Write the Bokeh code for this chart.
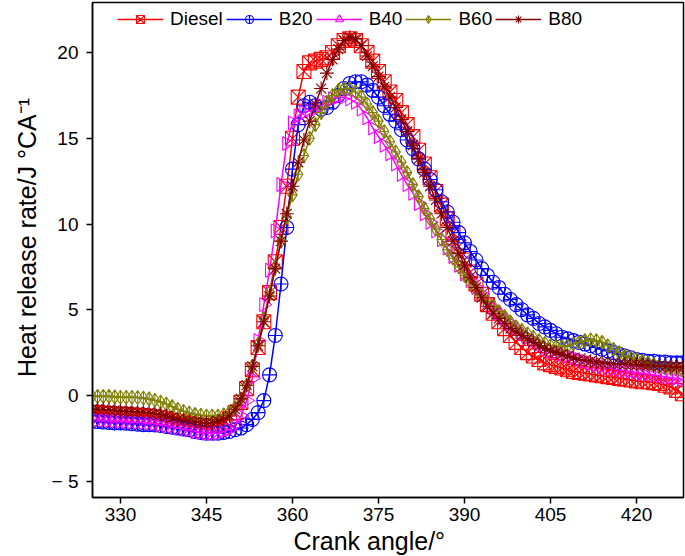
import math
from bokeh.plotting import figure
from bokeh.models import FixedTicker, Range1d, CustomJSTickFormatter, ColumnDataSource
from bokeh.embed import file_html
from bokeh.resources import INLINE

crank = list(range(325, 429))

diesel = [-1.0, -1.0, -1.05, -1.05, -1.1, -1.1, -1.1, -1.15, -1.15, -1.2,
          -1.2, -1.25, -1.3, -1.35, -1.45, -1.5, -1.55, -1.65, -1.7, -1.75,
          -1.8, -1.8, -1.7, -1.55, -1.35, -1.0, -0.4, 0.4, 1.5, 2.8,
          4.3, 6.0, 7.8, 9.8, 12.2, 15.0, 17.4, 18.9, 19.4, 19.5,
          19.6, 19.7, 20.0, 20.4, 20.7, 20.8, 20.7, 20.4, 20.0, 19.5,
          18.9, 18.3, 17.7, 17.2, 16.5, 15.8, 15.1, 14.3, 13.5, 12.7,
          11.9, 11.1, 10.3, 9.5, 8.7, 7.9, 7.2, 6.5, 5.9, 5.3,
          4.8, 4.3, 3.9, 3.5, 3.1, 2.8, 2.5, 2.3, 2.1, 1.9,
          1.8, 1.7, 1.6, 1.5, 1.4, 1.35, 1.3, 1.25, 1.2, 1.15,
          1.1, 1.05, 1.0, 0.95, 0.9, 0.85, 0.8, 0.8, 0.75, 0.7,
          0.6, 0.5, 0.3, 0.1]

b20 = [-1.5, -1.52, -1.55, -1.57, -1.6, -1.6, -1.62, -1.65, -1.67, -1.7,
       -1.7, -1.72, -1.75, -1.8, -1.85, -1.9, -1.95, -2.0, -2.1, -2.15,
       -2.2, -2.2, -2.2, -2.15, -2.1, -2.0, -1.9, -1.7, -1.4, -1.0,
       -0.3, 1.2, 3.5, 6.5, 9.8, 13.2, 15.8, 16.9, 17.1, 16.9,
       16.7, 16.8, 17.1, 17.5, 17.9, 18.2, 18.3, 18.3, 18.1, 17.8,
       17.4, 16.9, 16.4, 16.0, 15.5, 14.9, 14.4, 13.8, 13.2, 12.6,
       12.0, 11.3, 10.7, 10.1, 9.5, 8.9, 8.4, 7.9, 7.4, 7.0,
       6.6, 6.3, 5.9, 5.6, 5.3, 5.0, 4.7, 4.5, 4.2, 4.0,
       3.8, 3.6, 3.4, 3.3, 3.2, 3.1, 3.0, 2.9, 2.8, 2.7,
       2.6, 2.5, 2.4, 2.3, 2.2, 2.1, 2.05, 2.0, 2.0, 1.95,
       1.95, 1.9, 1.9, 1.9]

b40 = [-1.4, -1.42, -1.44, -1.46, -1.48, -1.5, -1.52, -1.54, -1.56, -1.58,
       -1.6, -1.65, -1.7, -1.75, -1.8, -1.9, -1.95, -2.0, -2.1, -2.15,
       -2.2, -2.2, -2.2, -2.1, -2.0, -1.7, -1.2, -0.3, 1.0, 3.2,
       5.3, 7.3, 9.6, 12.3, 14.7, 15.9, 16.3, 16.5, 16.6, 16.7,
       16.9, 17.1, 17.3, 17.4, 17.4, 17.3, 17.1, 16.7, 16.2, 15.6,
       15.1, 14.6, 14.1, 13.5, 12.9, 12.3, 11.8, 11.2, 10.6, 10.1,
       9.6, 9.1, 8.6, 8.1, 7.6, 7.1, 6.7, 6.3, 5.9, 5.5,
       5.1, 4.8, 4.5, 4.2, 3.9, 3.6, 3.4, 3.2, 3.0, 2.8,
       2.6, 2.5, 2.4, 2.3, 2.2, 2.1, 2.0, 1.9, 1.8, 1.7,
       1.62, 1.55, 1.5, 1.45, 1.4, 1.35, 1.3, 1.25, 1.2, 1.15,
       1.1, 1.05, 1.0, 0.95]

b60 = [-0.05, -0.05, -0.05, -0.05, -0.08, -0.1, -0.1, -0.1, -0.12, -0.15,
       -0.2, -0.28, -0.38, -0.5, -0.65, -0.8, -0.92, -1.02, -1.1, -1.15,
       -1.2, -1.2, -1.2, -1.12, -1.0, -0.7, -0.2, 0.6, 1.7, 3.0,
       4.5, 6.0, 7.5, 9.0, 10.4, 11.7, 12.9, 14.0, 15.0, 15.8,
       16.5, 17.1, 17.5, 17.8, 17.9, 17.9, 17.7, 17.4, 17.0, 16.5,
       16.0, 15.4, 14.8, 14.2, 13.6, 13.0, 12.3, 11.6, 10.9, 10.3,
       9.7, 9.1, 8.5, 8.0, 7.5, 7.0, 6.6, 6.2, 5.8, 5.5,
       5.2, 4.9, 4.6, 4.3, 4.0, 3.8, 3.6, 3.4, 3.2, 3.05,
       2.9, 2.85, 2.85, 2.9, 3.0, 3.1, 3.2, 3.25, 3.2, 3.1,
       2.9, 2.7, 2.5, 2.3, 2.2, 2.1, 2.0, 1.9, 1.8, 1.7,
       1.65, 1.6, 1.55, 1.5]

b80 = [-0.8, -0.8, -0.82, -0.84, -0.86, -0.9, -0.92, -0.94, -0.96, -0.98,
       -1.0, -1.05, -1.1, -1.2, -1.3, -1.4, -1.45, -1.5, -1.55, -1.58,
       -1.6, -1.6, -1.5, -1.4, -1.2, -0.8, -0.2, 0.6, 1.7, 2.9,
       4.3, 5.8, 7.4, 9.0, 10.6, 12.2, 13.6, 14.9, 16.0, 17.0,
       17.9, 18.8, 19.6, 20.2, 20.7, 20.9, 20.8, 20.4, 19.8, 19.2,
       18.6, 18.0, 17.4, 16.8, 16.1, 15.4, 14.6, 13.8, 13.0, 12.2,
       11.4, 10.6, 9.8, 9.0, 8.3, 7.6, 6.9, 6.3, 5.7, 5.2,
       4.8, 4.5, 4.2, 3.9, 3.7, 3.5, 3.3, 3.1, 2.9, 2.75,
       2.6, 2.5, 2.4, 2.3, 2.2, 2.1, 2.05, 2.0, 1.95, 1.9,
       1.88, 1.86, 1.84, 1.82, 1.8, 1.8, 1.78, 1.76, 1.74, 1.72,
       1.7, 1.68, 1.66, 1.64]

labels = ["Diesel", "B20", "B40", "B60", "B80"]
x_ticks = [330, 345, 360, 375, 390, 405, 420]
y_ticks = [-5, 0, 5, 10, 15, 20]

FONT = "Liberation Sans"

p = figure(frame_width=591, frame_height=495,
           x_range=Range1d(325.12, 428.2), y_range=Range1d(-5.95, 22.92),
           output_backend="svg", toolbar_location=None,
           min_border_left=92, min_border_top=2, min_border_right=2,
           min_border_bottom=59)
p.background_fill_color = "white"
p.border_fill_color = "white"
p.outline_line_color = "black"
p.outline_line_width = 1.5
p.xgrid.visible = False
p.ygrid.visible = False

series = [
    (diesel, "#FF0000", "square_x", 0.0),
    (b20, "#0000FF", "circle_cross", 0.0),
    (b40, "#FF00FF", "triangle", -math.pi / 2),
    (b60, "#808000", "diamond_cross", 0.0),
    (b80, "#800000", "asterisk", 0.0),
]

for (vals, col, mk, ang), lab in zip(series, labels):
    src = ColumnDataSource(dict(x=crank, y=vals))
    p.line("x", "y", source=src, line_color=col, line_width=1.5, legend_label=lab)
    p.scatter("x", "y", source=src, marker=mk, size=14, angle=ang,
              line_color=col, fill_color=None, line_width=1.1, legend_label=lab)

for ax in (p.xaxis[0], p.yaxis[0]):
    ax.axis_line_width = 1.5
    ax.axis_line_color = "black"
    ax.major_tick_line_width = 1.5
    ax.major_tick_line_color = "black"
    ax.major_tick_out = 6
    ax.major_tick_in = 0
    ax.minor_tick_line_color = None
    ax.major_label_text_font = FONT
    ax.major_label_text_font_size = "19px"
    ax.major_label_text_color = "black"
    ax.axis_label_text_font = FONT
    ax.axis_label_text_font_size = "25px"
    ax.axis_label_text_font_style = "normal"
    ax.axis_label_text_color = "black"

p.xaxis[0].ticker = FixedTicker(ticks=x_ticks)
p.yaxis[0].ticker = FixedTicker(ticks=y_ticks)
p.yaxis[0].formatter = CustomJSTickFormatter(
    code="return tick < 0 ? '\u2212 ' + Math.abs(tick) : '' + tick;")
p.xaxis[0].axis_label = "Crank angle/\u00b0\u2002\u2002\u2002"
p.yaxis[0].axis_label = "\u2002\u2002Heat release rate/J \u00b0CA\u207b\u00b9"
p.xaxis[0].major_label_standoff = 4
p.xaxis[0].axis_label_standoff = 3
p.yaxis[0].major_label_standoff = 8
p.yaxis[0].axis_label_standoff = 8

lg = p.legend[0]
lg.orientation = "horizontal"
lg.location = (25, 467)
lg.margin = 0
lg.padding = 0
lg.spacing = 3
lg.glyph_width = 46
lg.glyph_height = 20
lg.label_height = 20
lg.label_standoff = 7
lg.label_text_font = FONT
lg.label_text_font_size = "19px"
lg.label_text_color = "black"
lg.border_line_color = None
lg.background_fill_alpha = 0.0

open("out.html", "w").write(file_html(p, INLINE))
